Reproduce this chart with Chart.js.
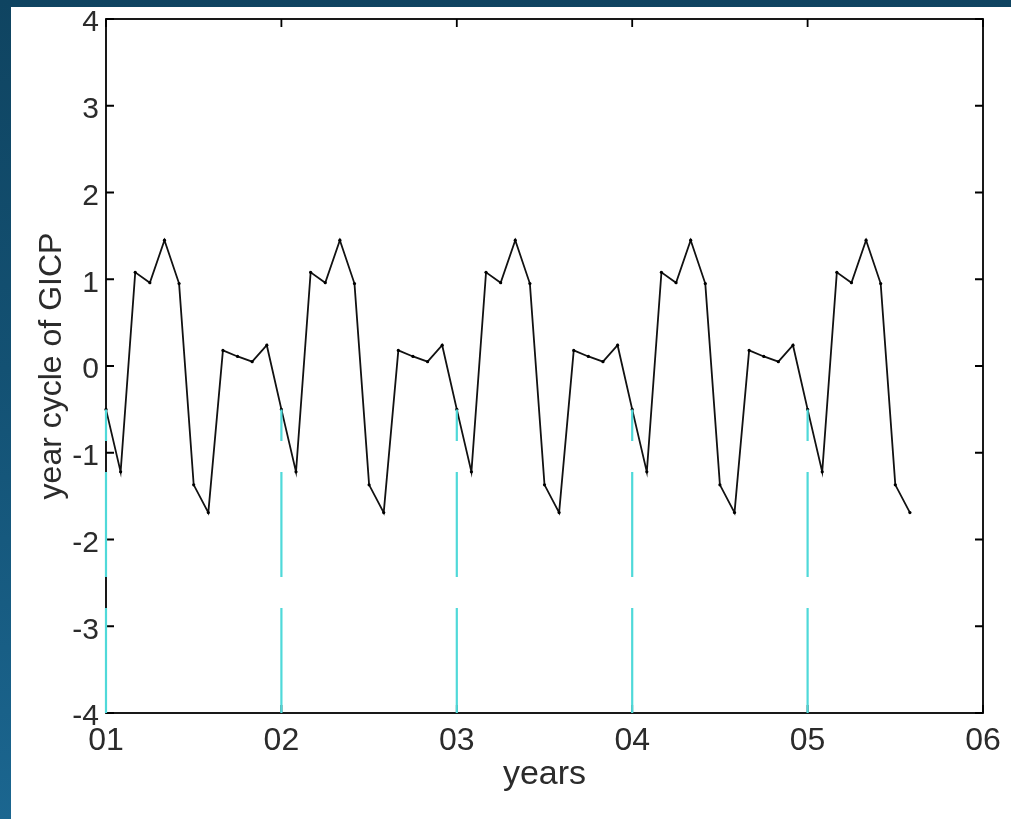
<!DOCTYPE html>
<html>
<head>
<meta charset="utf-8">
<script src="https://cdn.jsdelivr.net/npm/chart.js@4.4.1/dist/chart.umd.min.js"></script>
<style>
  html, body { margin: 0; padding: 0; }
  body { width: 1011px; height: 819px; overflow: hidden; position: relative;
         background: linear-gradient(180deg, #0f4461 0%, #135173 45%, #1b6690 100%); }
  #panel { position: absolute; left: 11px; top: 7px; right: 0; bottom: 0; background: #ffffff; }
  #c { position: absolute; left: 0; top: 0; }
</style>
</head>
<body>
<div id="panel"></div>
<canvas id="c" width="1011" height="819"></canvas>
<script>
// ---- data ----
const yearTickLabels = ['01', '02', '03', '04', '05', '06'];
const yearStarts = [1, 2, 3, 4, 5];            // 2001 .. 2005 (x axis in years since 2000)
const yTickValues = [-4, -3, -2, -1, 0, 1, 2, 3, 4];
// monthly year-cycle of GICP, Jan 2001 .. Aug 2005
const gicpCycle = [
  -0.50, -1.22, 1.08, 0.96, 1.45, 0.95, -1.37, -1.69, 0.18, 0.11, 0.05, 0.24,
  -0.50, -1.22, 1.08, 0.96, 1.45, 0.95, -1.37, -1.69, 0.18, 0.11, 0.05, 0.24,
  -0.50, -1.22, 1.08, 0.96, 1.45, 0.95, -1.37, -1.69, 0.18, 0.11, 0.05, 0.24,
  -0.50, -1.22, 1.08, 0.96, 1.45, 0.95, -1.37, -1.69, 0.18, 0.11, 0.05, 0.24,
  -0.50, -1.22, 1.08, 0.96, 1.45, 0.95, -1.37, -1.69
];
const axisMin = -4, axisMax = 4;
const firstYear = 1, lastYear = 6;

// ---- build datasets ----
const seriesPoints = gicpCycle.map((v, i) => ({ x: firstYear + i / 12, y: v }));
const markerSets = yearStarts.map(yr => {
  const idx = (yr - firstYear) * 12;
  return {
    type: 'line',
    data: [{ x: yr, y: axisMin }, { x: yr, y: gicpCycle[idx] }],
    borderColor: '#4fd9d9',
    borderWidth: 2.2,
    borderDash: [105, 31],
    pointRadius: 0,
    clip: false
  };
});

const FONT = '"Liberation Sans", Arial, Helvetica, sans-serif';
const TXT = '#2b2b2b';

const boxPlugin = {
  id: 'box',
  beforeDatasetsDraw(chart) {
    const { ctx, chartArea: { left, right, top, bottom }, scales: { x, y } } = chart;
    ctx.save();
    ctx.strokeStyle = '#000';
    ctx.lineWidth = 1.8;
    ctx.strokeRect(left, top, right - left, bottom - top);
    const tl = 8;
    ctx.beginPath();
    yTickValues.forEach(v => {
      const py = y.getPixelForValue(v);
      ctx.moveTo(left, py); ctx.lineTo(left + tl, py);
      ctx.moveTo(right, py); ctx.lineTo(right - tl, py);
    });
    for (let v = firstYear; v <= lastYear; v++) {
      const px = x.getPixelForValue(v);
      ctx.moveTo(px, bottom); ctx.lineTo(px, bottom - tl);
      ctx.moveTo(px, top); ctx.lineTo(px, top + tl);
    }
    ctx.stroke();
    ctx.restore();
  }
};

new Chart(document.getElementById('c'), {
  type: 'line',
  data: {
    datasets: [
      ...markerSets,
      {
        data: seriesPoints,
        borderColor: '#111',
        borderWidth: 1.8,
        pointRadius: 1.6,
        pointBackgroundColor: '#000',
        pointBorderWidth: 0,
        tension: 0,
        clip: false
      }
    ]
  },
  options: {
    responsive: false,
    animation: false,
    devicePixelRatio: 1,
    layout: { padding: { left: 0, top: 19, right: 28, bottom: 0 } },
    plugins: { legend: { display: false }, tooltip: { enabled: false } },
    scales: {
      x: {
        type: 'linear',
        min: firstYear, max: lastYear,
        afterFit: s => { s.height = 106; s.paddingLeft = 0; s.paddingRight = 0; },
        afterBuildTicks: s => { s.ticks = yearTickLabels.map((_, i) => ({ value: firstYear + i })); },
        grid: { display: false, drawTicks: false },
        border: { display: false },
        ticks: {
          padding: 9,
          color: TXT,
          font: { family: FONT, size: 32 },
          maxRotation: 0,
          callback: v => yearTickLabels[Math.round(v) - firstYear]
        },
        title: { display: true, text: 'years', color: TXT,
                 font: { family: FONT, size: 34 }, padding: { top: 0, bottom: 24 } }
      },
      y: {
        min: axisMin, max: axisMax,
        afterFit: s => { s.width = 106; s.paddingTop = 0; s.paddingBottom = 0; },
        afterBuildTicks: s => { s.ticks = yTickValues.map(v => ({ value: v })); },
        grid: { display: false, drawTicks: false },
        border: { display: false },
        ticks: {
          padding: 7,
          labelOffset: 4,
          color: TXT,
          font: { family: FONT, size: 30 }
        },
        title: { display: true, text: 'year cycle of GICP', color: TXT,
                 font: { family: FONT, size: 32 }, padding: { top: 33, bottom: 0 } }
      }
    }
  },
  plugins: [boxPlugin]
});
</script>
</body>
</html>
